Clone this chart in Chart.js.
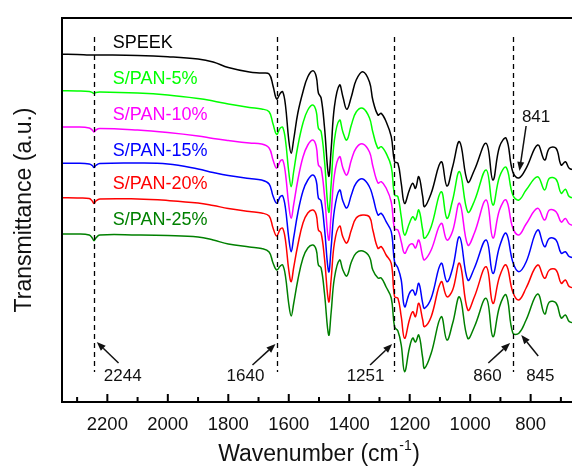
<!DOCTYPE html>
<html>
<head>
<meta charset="utf-8">
<script src="https://cdn.jsdelivr.net/npm/chart.js@4.4.1/dist/chart.umd.min.js"></script>
<style>
  html, body { margin: 0; padding: 0; background: #fff; overflow: hidden; }
  #wrap { width: 576px; height: 466px; }
</style>
</head>
<body>
<div id="wrap"><canvas id="ftir"></canvas></div>
<script>
// wavenumber (cm-1) sample points
const wavenumber = [2350, 2300, 2260, 2250, 2244, 2238, 2225, 2100, 2000, 1900,
  1850, 1800, 1730, 1690, 1665, 1652, 1640, 1628, 1620, 1611,
  1600, 1592, 1584, 1570, 1553, 1537, 1520, 1509, 1502, 1493,
  1482, 1468, 1460, 1449, 1432, 1421, 1408, 1393, 1377, 1355,
  1333, 1322, 1305, 1294, 1278, 1261, 1250, 1239, 1228, 1217,
  1201, 1190, 1181, 1170, 1157, 1151, 1129, 1096, 1077, 1058,
  1035, 1008, 986, 947, 925, 903, 881, 859, 839, 815,
  777, 754, 738, 716, 699, 685, 672, 650];

// transmittance, arbitrary units (offset curves)
const speek = [347.7, 347.5, 347, 347, 347, 347, 347, 346.5, 345.3, 343,
  340, 334.5, 330, 329, 328, 316, 303, 308.7, 310.3, 297,
  262, 248.7, 262, 289, 310.3, 325.3, 331.3, 325.3, 309, 304,
  275.3, 226, 252, 295.3, 317, 305.3, 292.7, 305.3, 322, 330.3,
  320, 302, 287, 288.7, 280.3, 265.3, 240.3, 238.7, 218.7, 198.7,
  212, 218.7, 213.7, 225.3, 205.3, 195.3, 208.7, 240.3, 216, 235.3,
  260.3, 220, 232, 258.7, 222, 255.3, 263.7, 230, 224, 233.7,
  257, 242, 253.7, 253.7, 237, 240.3, 233.7, 232];
const span5 = [311.3, 311, 310.5, 309.5, 308.5, 309.5, 310, 309, 307, 303.5,
  301, 298, 294.5, 293, 290.3, 278, 267.7, 274, 274.7, 262,
  230, 215.3, 230, 256, 279, 292, 297, 290.3, 273.7, 270.3,
  242, 190, 217, 262, 282, 270, 262, 277, 290, 293.7,
  284, 270, 253.7, 255.3, 248.7, 235.3, 207, 205.3, 185.3, 167,
  178.7, 185.3, 182, 192, 172, 163.7, 175.3, 210.3, 183.7, 202,
  230.3, 190, 201, 232, 197, 225.3, 234.7, 207, 202, 212,
  225.3, 212, 223.7, 222.7, 208.7, 212.7, 205.3, 204];
const span10 = [275, 275, 274, 272, 270, 272, 273.5, 272, 269.5, 266,
  263.5, 261.5, 259, 258, 254, 242, 233.7, 241, 242, 228.7,
  197, 183.7, 197, 222, 245, 257, 262, 255.3, 237, 233.7,
  207, 162, 187, 227, 245.3, 234, 227, 242, 254, 258,
  250, 236, 219, 220.3, 214, 200, 173, 172, 160.3, 148.7,
  157, 158, 154, 162, 145.3, 142, 152, 178.7, 162, 171,
  198.7, 157, 169, 202, 164, 192, 202, 174, 167, 178,
  193.7, 182, 192, 190.3, 180, 183.5, 178, 176];
const span15 = [238.7, 238.7, 238, 236.5, 234.5, 236.5, 238.5, 239, 238, 233,
  229.5, 226.5, 223.5, 222, 218, 206, 198.7, 205.5, 206, 194,
  164, 150.3, 164, 189, 211, 222, 227, 221, 204, 201,
  174, 130.3, 154, 192, 212, 201, 194, 207, 219, 223,
  215, 205.3, 187, 188.7, 180.3, 170.3, 140, 134, 122, 95.3,
  108.7, 112, 107, 118.7, 98.7, 93.7, 103.7, 138.7, 120.3, 134,
  165, 122, 134, 162, 128.7, 155.3, 168.7, 140, 130.3, 140,
  172, 155.3, 163.7, 162, 148.7, 150.3, 145.3, 144];
const span20 = [204.3, 204, 203.5, 201, 198.5, 201, 203, 203, 201.5, 199,
  196.5, 193.5, 190.5, 189, 186, 174, 166, 173, 173.7, 162,
  132, 120.3, 134, 157, 179, 189, 192, 187, 172, 169,
  144, 100.3, 122, 159, 176, 165, 159, 172, 184, 187,
  185, 172, 153.7, 155.3, 147, 138.7, 105.3, 103.7, 85.3, 63.7,
  82, 90.3, 85.3, 98.7, 82, 75.3, 85.3, 120.3, 105.3, 112,
  138.7, 92, 105.3, 135.3, 98.7, 125.3, 137, 110, 102, 114,
  137, 123.7, 132, 132, 118.7, 122, 115.3, 114];
const span25 = [168, 168, 167, 164, 161.3, 164, 167, 167, 166.5, 165,
  162, 158, 155, 153.5, 150, 139, 132, 136, 137, 126,
  98, 86, 98, 122, 144, 154, 157, 152, 137, 134,
  109, 67, 89, 124, 142, 132, 126, 140, 149, 151,
  145, 132, 124, 124, 115, 104, 75, 71, 57, 30.3,
  54, 64, 60, 67, 44, 33.7, 48.7, 85.3, 62, 78.7,
  105, 63.7, 75.3, 103.7, 65.3, 95.3, 107, 69, 68.7, 82,
  108, 88, 100, 99, 84, 87, 80.3, 79];

const seriesNames = ['SPEEK', 'S/PAN-5%', 'S/PAN-10%', 'S/PAN-15%', 'S/PAN-20%', 'S/PAN-25%'];
const seriesColors = ['#000000', '#00ff00', '#ff00ff', '#0000ff', '#ff0000', '#008000'];
const seriesValues = [speek, span5, span10, span15, span20, span25];

const xTicks = [2200, 2000, 1800, 1600, 1400, 1200, 1000, 800];
const xMinorTicks = [2300, 2100, 1900, 1700, 1500, 1300, 1100, 900, 700];

// marked bands
const bandLines = [2244, 1640, 1251, 860];
const bandNotes = [
  { text: '2244', at: [2149, 26], from: [2163, 39], to: [2235, 60] },
  { text: '1640', at: [1743, 26], from: [1720, 37], to: [1644, 58] },
  { text: '1251', at: [1346, 26], from: [1331, 37], to: [1258, 58] },
  { text: '860', at: [943, 26], from: [940, 39], to: [868, 59] },
  { text: '845', at: [768, 26], from: [775, 46], to: [831, 67] },
  { text: '841', at: [782, 285], from: [815, 276], to: [837, 231] }
];
const nameSpots = [[2182, 359], [2182, 323], [2182, 287], [2182, 251], [2182, 218], [2182, 182]];

const FONT = 'Arial, "Liberation Sans", sans-serif';

const decor = {
  id: 'decor',
  afterDatasetsDraw(chart) {
    const { ctx, chartArea: a, scales: { x, y } } = chart;
    ctx.save();

    // frame
    ctx.strokeStyle = '#000';
    ctx.lineWidth = 2;
    ctx.beginPath();
    ctx.moveTo(a.right + 4, a.top);
    ctx.lineTo(a.left, a.top);
    ctx.lineTo(a.left, a.bottom);
    ctx.lineTo(a.right + 4, a.bottom);
    ctx.stroke();

    // inward ticks
    ctx.beginPath();
    xTicks.forEach(v => {
      const px = x.getPixelForValue(v);
      ctx.moveTo(px, a.bottom);
      ctx.lineTo(px, a.bottom - 8);
    });
    xMinorTicks.forEach(v => {
      const px = x.getPixelForValue(v);
      ctx.moveTo(px, a.bottom);
      ctx.lineTo(px, a.bottom - 5);
    });
    ctx.stroke();

    // dashed band lines
    ctx.lineWidth = 1.3;
    ctx.setLineDash([5, 4]);
    ctx.beginPath();
    bandLines.forEach(v => {
      const px = Math.round(x.getPixelForValue(v)) + 0.5;
      ctx.moveTo(px, y.getPixelForValue(365));
      ctx.lineTo(px, y.getPixelForValue(30));
    });
    ctx.stroke();
    ctx.setLineDash([]);

    // arrows and band labels
    ctx.fillStyle = '#111';
    ctx.strokeStyle = '#111';
    ctx.lineWidth = 1.5;
    ctx.font = '17px ' + FONT;
    ctx.textAlign = 'center';
    ctx.textBaseline = 'middle';
    bandNotes.forEach(n => {
      const x0 = x.getPixelForValue(n.from[0]), y0 = y.getPixelForValue(n.from[1]);
      const x1 = x.getPixelForValue(n.to[0]), y1 = y.getPixelForValue(n.to[1]);
      const ang = Math.atan2(y1 - y0, x1 - x0);
      const hx = x1 - 9 * Math.cos(ang), hy = y1 - 9 * Math.sin(ang);
      ctx.beginPath();
      ctx.moveTo(x0, y0);
      ctx.lineTo(hx, hy);
      ctx.stroke();
      ctx.beginPath();
      ctx.moveTo(x1, y1);
      ctx.lineTo(hx + 3.5 * Math.sin(ang), hy - 3.5 * Math.cos(ang));
      ctx.lineTo(hx - 3.5 * Math.sin(ang), hy + 3.5 * Math.cos(ang));
      ctx.closePath();
      ctx.fill();
      ctx.fillText(n.text, x.getPixelForValue(n.at[0]), y.getPixelForValue(n.at[1]));
    });

    // series names
    ctx.font = '18px ' + FONT;
    ctx.textAlign = 'left';
    seriesNames.forEach((name, i) => {
      ctx.fillStyle = seriesColors[i];
      ctx.fillText(name, x.getPixelForValue(nameSpots[i][0]), y.getPixelForValue(nameSpots[i][1]));
    });

    // x axis title with superscript
    const cx = (a.left + a.right) / 2, cy = 455;
    const main = 'Wavenumber (cm', sup = '-1', tail = ')';
    ctx.fillStyle = '#111';
    ctx.font = '23px ' + FONT;
    const wMain = ctx.measureText(main).width, wTail = ctx.measureText(tail).width;
    ctx.font = '14px ' + FONT;
    const wSup = ctx.measureText(sup).width;
    let sx = cx - (wMain + wSup + wTail + 1) / 2;
    ctx.font = '23px ' + FONT;
    ctx.fillText(main, sx, cy);
    ctx.font = '14px ' + FONT;
    ctx.fillText(sup, sx + wMain + 0.5, cy - 9);
    ctx.font = '23px ' + FONT;
    ctx.fillText(tail, sx + wMain + wSup + 1, cy);

    ctx.restore();
  }
};

const datasets = seriesNames.map((name, i) => ({
  label: name,
  data: wavenumber.map((w, k) => ({ x: w, y: seriesValues[i][k] })),
  borderColor: seriesColors[i],
  borderWidth: 1.5,
  pointRadius: 0,
  fill: false,
  tension: 0.4
}));

new Chart(document.getElementById('ftir'), {
  type: 'line',
  data: { datasets },
  options: {
    responsive: true,
    maintainAspectRatio: false,
    animation: false,
    layout: { padding: { top: 18, right: 0, bottom: 0, left: 0 } },
    plugins: { legend: { display: false }, tooltip: { enabled: false } },
    scales: {
      x: {
        type: 'linear',
        reverse: true,
        min: 650,
        max: 2350,
        afterBuildTicks: s => { s.ticks = xTicks.map(v => ({ value: v })); },
        afterFit: s => { s.height = 64; },
        grid: { display: false, drawTicks: false },
        border: { display: false },
        ticks: {
          color: '#111',
          font: { family: FONT, size: 18.5 },
          padding: 12,
          maxRotation: 0,
          autoSkip: false,
          callback: v => String(v)
        }
      },
      y: {
        min: 0,
        max: 384,
        afterFit: s => { s.width = 62; },
        grid: { display: false, drawTicks: false },
        border: { display: false },
        ticks: { display: false },
        title: {
          display: true,
          text: 'Transmittance (a.u.)',
          color: '#111',
          font: { family: FONT, size: 23 },
          padding: { top: 11, bottom: 0 }
        }
      }
    }
  },
  plugins: [decor]
});
</script>
</body>
</html>
